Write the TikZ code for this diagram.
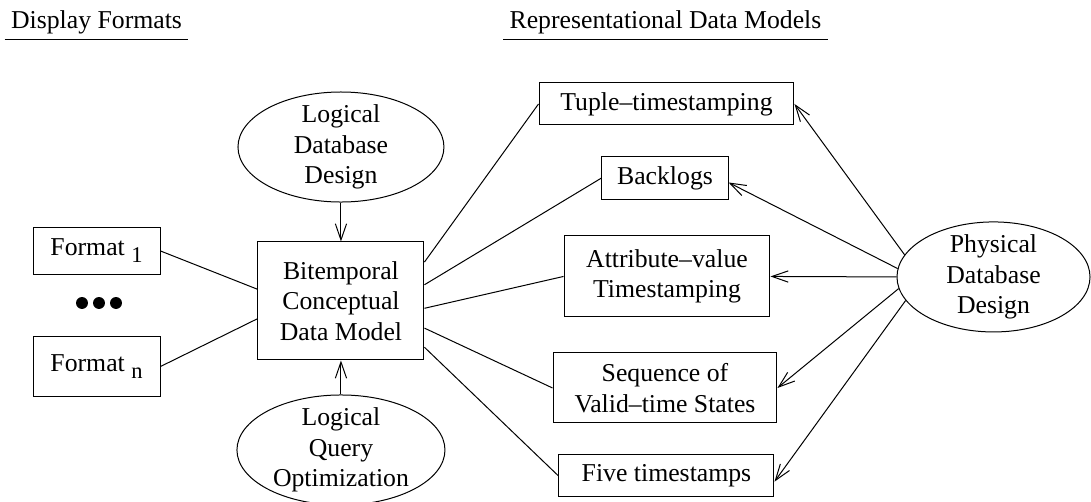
\documentclass[tikz,border=0pt]{standalone}
\usepackage{fontspec}
\setmainfont{Liberation Serif}
\usetikzlibrary{shapes.geometric, arrows.meta}

\tikzstyle{myarrow}=[-{Straight Barb[length=6.5pt, width=4.5pt]}]
\tikzstyle{line}=[-]
\tikzstyle{box}=[rectangle, draw=black, align=center]
\tikzstyle{oval}=[ellipse, draw=black, align=center, inner xsep=0pt, inner ysep=-6pt]
\tikzstyle{heading}=[inner xsep=2.4pt, inner ysep=2.2pt, anchor=south]

\begin{document}
\begin{tikzpicture}[font=\fontsize{10.3}{12.2}\selectfont, line width=0.4pt]
    \useasboundingbox (0, 0) rectangle (15.34, 7.058);

    \node (display heading) at (1.357, 6.496) [heading] {Display Formats};
    \node (model heading) at (9.357, 6.496) [heading] {Representational Data Models};
    \draw[line] (display heading.south west) -- (display heading.south east);
    \draw[line] (model heading.south west) -- (model heading.south east);

    \node (format1) at (1.357, 3.529) [box, minimum width=1.786cm, minimum height=0.661cm] {Format \raisebox{-0.6ex}{\small 1}};
    \foreach \x in {1.153, 1.392, 1.631}
        \fill (\x, 2.798) circle (0.084);
    \node (formatn) at (1.357, 1.905) [box, minimum width=1.786cm, minimum height=0.830cm] {Format \raisebox{-0.6ex}{\small n}};

    \node (conceptual model) at (4.794, 2.826) [box, minimum width=2.334cm, minimum height=1.659cm] {Bitemporal\\Conceptual\\Data Model};
    \node (logical design) at (4.794, 4.991) [oval, minimum width=2.896cm, minimum height=1.547cm] {Logical\\Database\\Design};
    \node (query optimization) at (4.794, 0.731) [oval, minimum width=2.925cm, minimum height=1.547cm] {Logical\\Query\\Optimization};

    \node (tuple) at (9.371, 5.596) [box, minimum width=3.585cm, minimum height=0.591cm] {Tuple--timestamping};
    \node (backlogs) at (9.350, 4.555) [box, minimum width=1.772cm, minimum height=0.591cm] {Backlogs};
    \node (attribute) at (9.378, 3.171) [box, minimum width=2.896cm, minimum height=1.139cm] {Attribute--value\\Timestamping};
    \node (sequence) at (9.350, 1.603) [box, minimum width=3.149cm, minimum height=0.984cm] {Sequence of\\Valid--time States};
    \node (five) at (9.371, 0.366) [box, minimum width=3.023cm, minimum height=0.591cm] {Five timestamps};

    \node (physical design) at (13.969, 3.164) [oval, minimum width=2.714cm, minimum height=1.547cm] {Physical\\Database\\Design};

    \draw[line] (format1.east) -- (conceptual model.172);
    \draw[line] (formatn.east) -- (conceptual model.192);
    \draw[myarrow] (logical design.south) -- (conceptual model.north);
    \draw[myarrow] (query optimization.north) -- (conceptual model.south);

    \draw[line] (conceptual model.25) -- (tuple.west);
    \draw[line] (conceptual model.11) -- (backlogs.west);
    \draw[line] (conceptual model.-5) -- (attribute.west);
    \draw[line] (conceptual model.-18) -- (sequence.west);
    \draw[line] (conceptual model.-29) -- (five.west);

    \draw[myarrow] (physical design.166) -- (tuple.east);
    \draw[myarrow] (physical design.175) -- (backlogs.-4);
    \draw[myarrow] (physical design.west) -- (attribute.east);
    \draw[myarrow] (physical design.187) -- (sequence.east);
    \draw[myarrow] (physical design.195) -- (five.-3);
\end{tikzpicture}
\end{document}
